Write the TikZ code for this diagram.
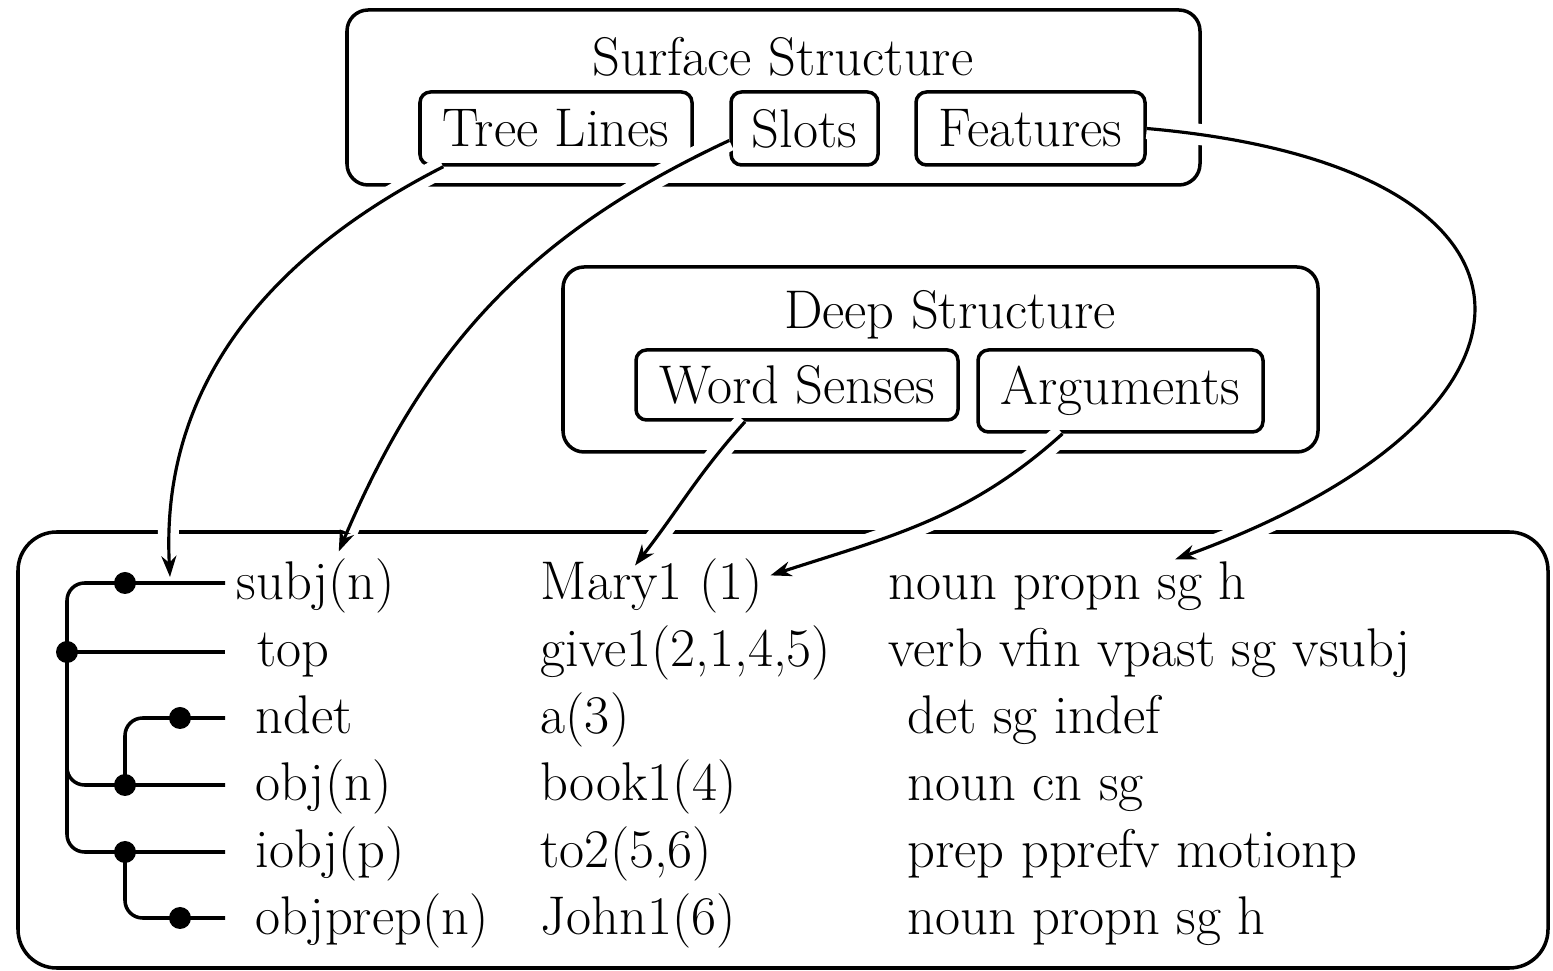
\documentclass[tikz,border=0pt]{standalone}
\usepackage{tikz}
\usetikzlibrary{arrows.meta}

\begin{document}
\begin{tikzpicture}[
  font=\fontsize{15.5}{18}\selectfont,
  outer/.style={rectangle, draw, line width=1pt, rounded corners=6pt},
  box/.style={rectangle, draw, line width=1pt, rounded corners=3pt, inner sep=0pt},
  word/.style={anchor=base west, inner sep=0pt},
  dot/.style={circle, fill, inner sep=0pt, minimum size=2.2mm},
  tree/.style={line width=1pt, rounded corners=5pt},
  link/.style={->, line width=0.9pt, >={Stealth[length=2.1mm, width=1.5mm]},
               preaction={draw=white, line width=6pt, -, shorten >=6pt}}
]
\useasboundingbox (0,0) rectangle (15.53,-9.71);

% Surface structure (top)
\node[outer, minimum width=8.53cm, minimum height=1.75cm] at (7.735,-0.975) (surf) {};
\node at (7.83,-0.57) (surflab) {Surface Structure};
\node[box, minimum width=2.72cm, minimum height=0.73cm] at (5.56,-1.285)  (treel) {Tree Lines};
\node[box, minimum width=1.47cm, minimum height=0.73cm] at (8.045,-1.285) (slots) {Slots};
\node[box, minimum width=2.29cm, minimum height=0.73cm] at (10.305,-1.285) (feat) {Features};

% Deep structure (middle)
\node[outer, minimum width=7.55cm, minimum height=1.85cm] at (9.405,-3.595) (deep) {};
\node at (9.50,-3.15) (deeplab) {Deep Structure};
\node[box, minimum width=3.22cm, minimum height=0.70cm] at (7.97,-3.85)   (wsense) {Word Senses};
\node[box, minimum width=2.85cm, minimum height=0.82cm] at (11.205,-3.91) (args)   {Arguments};

% Parse (bottom)
\node[outer, rounded corners=11pt, minimum width=15.30cm, minimum height=4.36cm] at (7.83,-7.50) (parse) {};

% Row 1
\node[word] at (2.36,-6.00) (subj) {subj(n)};
\node[word] at (5.40,-6.00) (mary) {Mary1 (1)};
\node[word] at (8.88,-6.00) (f1)   {noun propn sg h};
% Row 2
\node[word] at (2.57,-6.67) (top)  {top};
\node[word] at (5.40,-6.67) (give) {give1(2,1,4,5)};
\node[word] at (8.88,-6.67) (f2)   {verb vfin vpast sg vsubj};
% Row 3
\node[word] at (2.55,-7.34) (ndet) {ndet};
\node[word] at (5.40,-7.34) (a3)   {a(3)};
\node[word] at (9.07,-7.34) (f3)   {det sg indef};
% Row 4
\node[word] at (2.55,-8.01) (obj)  {obj(n)};
\node[word] at (5.40,-8.01) (book) {book1(4)};
\node[word] at (9.07,-8.01) (f4)   {noun cn sg};
% Row 5
\node[word] at (2.55,-8.68) (iobj) {iobj(p)};
\node[word] at (5.40,-8.68) (to2)  {to2(5,6)};
\node[word] at (9.07,-8.68) (f5)   {prep pprefv motionp};
% Row 6
\node[word] at (2.55,-9.35) (oprep) {objprep(n)};
\node[word] at (5.40,-9.35) (john)  {John1(6)};
\node[word] at (9.07,-9.35) (f6)    {noun propn sg h};

% Tree lines
\node[dot] at (1.25,-5.83) (dsubj) {};
\node[dot] at (0.67,-6.52) (dtop)  {};
\node[dot] at (1.80,-7.18) (dndet) {};
\node[dot] at (1.25,-7.85) (dobj)  {};
\node[dot] at (1.25,-8.52) (diobj) {};
\node[dot] at (1.80,-9.18) (dprep) {};
\coordinate (esubj) at (2.25,-5.83);
\coordinate (etop)  at (2.25,-6.52);
\coordinate (endet) at (2.25,-7.18);
\coordinate (eobj)  at (2.25,-7.85);
\coordinate (eiobj) at (2.25,-8.52);
\coordinate (eprep) at (2.25,-9.18);

\draw[tree] (esubj) -- (dsubj.center) -| (dtop.center) |- (diobj.center) -- (eiobj);
\draw[tree] (dtop.center) -- (etop);
\draw[tree] (dtop.center) |- (dobj.center) -- (eobj);
\draw[tree] (endet) -- (dndet.center) -| (dobj.center);
\draw[tree] (diobj.center) |- (dprep.center) -- (eprep);

% Arrows
\coordinate (tlend) at (1.70,-5.77);
\draw[link] ([xshift=0.25cm]treel.south west) to[out=207, in=93] (tlend);
\draw[link] ([yshift=-0.12cm]slots.west) to[out=205, in=67] ([shift={(0.23,0.07)}]subj.north);
\draw[link] (feat.east) to[out=-5, in=20, looseness=2.55] ([shift={(2.87,0.02)}]f1.north west);
\draw[link] ([xshift=-0.52cm]wsense.south) to[out=228, in=52] ([shift={(0.95,-0.07)}]mary.north west);
\draw[link] ([xshift=-0.58cm]args.south) to[out=222, in=18] ([shift={(0.07,0.11)}]mary.east);
\end{tikzpicture}
\end{document}
